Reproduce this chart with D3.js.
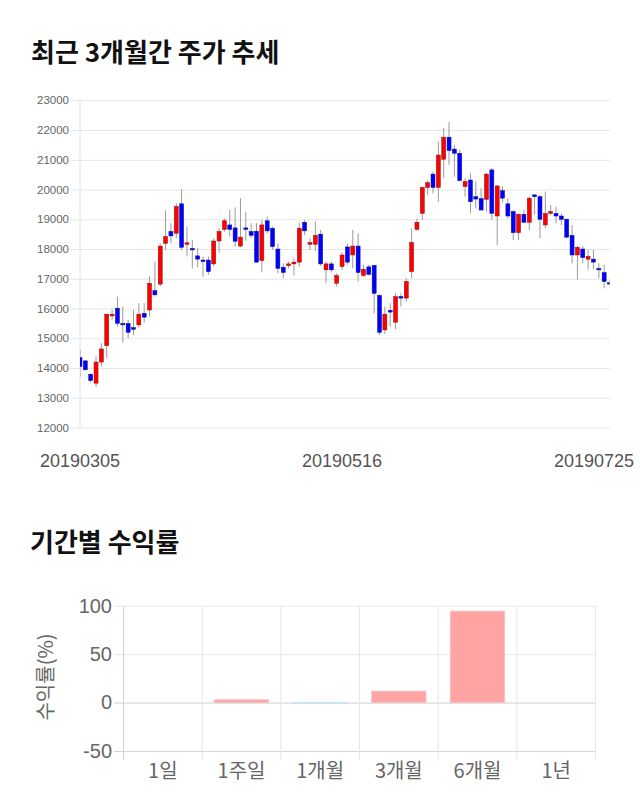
<!DOCTYPE html>
<html>
<head>
<meta charset="utf-8">
<script src="https://cdn.jsdelivr.net/npm/d3@7"></script>
<style>
  html, body { margin: 0; padding: 0; background: #fff; }
  svg { display: block; }
</style>
</head>
<body>
<svg id="chart" width="640" height="810"></svg>
<script>
// ---------- Data: daily candles 2019-03-05 .. 2019-07-25 ----------
const openP = [14350,14240,13790,13490,14200,14750,15750,16010,15500,15500,
  15360,15450,15840,15950,16600,16820,18190,18590,18530,19520,
  18170,18020,17770,17630,17630,17500,18270,18660,18810,18710,
  18100,18710,18590,18600,17610,18950,18700,18000,17390,17440,
  17500,17560,18900,18160,18160,18500,17300,17500,16850,17410,
  18070,17800,18100,17110,17400,17450,16440,15280,15940,15540,
  16400,16350,17240,18660,19200,20070,20520,20070,21020,21760,
  21360,21220,20100,20320,19760,19700,19670,20660,19110,19960,
  19520,19260,18550,19170,18900,19820,19760,18810,19200,19200,
  19110,19000,18460,17800,18000,17660,17660,17350,17210,16870];
const highP = [14610,14270,13830,14390,14830,15810,15970,16400,16070,15620,
  15950,16180,16180,17080,17580,18190,19300,18870,19540,20010,
  18750,18300,18030,17750,17750,18360,18700,19030,19320,19400,
  19710,19260,18870,18870,18980,19090,18750,18190,17520,17580,
  17690,18870,18980,18360,18920,18640,17580,17580,17190,17890,
  18190,18640,18530,17470,17470,17470,16480,16070,16180,16510,
  16510,17020,18700,19030,20100,20320,20600,21610,22080,22270,
  21500,21330,20380,20550,20270,20040,20550,20720,20150,20100,
  19710,19310,19200,19310,19760,19840,19820,19930,19480,19420,
  19200,19030,18810,18100,18100,17970,17970,17520,17470,16960];
const lowP = [13710,13920,13510,13360,14050,14330,15620,15390,14850,15000,
  15110,15360,15530,15730,16400,16740,17970,18190,18360,17970,
  17750,17350,17390,17070,17130,17410,17880,18580,18420,18080,
  18060,18280,18360,17540,17220,18530,17970,17190,17020,17350,
  17110,17410,18470,17970,17930,17430,16850,17210,16740,17300,
  17470,17350,16910,17070,17110,15840,15110,15150,15390,15310,
  16070,16230,17020,18620,18980,19810,19870,19590,20380,20830,
  20430,20270,19760,19200,19370,19310,19260,18980,18140,19560,
  19030,18300,18300,18870,18640,19150,18360,18700,19150,18870,
  18810,18360,17520,16970,17520,17300,17320,17020,16680,16800];
const closeP = [14050,13940,13580,14200,14640,15810,15810,15500,15450,15200,
  15300,15810,15710,16850,16460,18100,18420,18440,19430,18060,
  18210,17980,17660,17580,17240,18270,18590,18950,18660,18260,
  18400,18660,18460,17560,18810,18610,18080,17350,17210,17500,
  17560,18700,18610,18220,18460,17500,17500,17300,17110,17800,
  17560,18100,17210,17320,17150,16510,15200,15810,15880,16400,
  16350,16910,18220,18900,20070,20230,20070,21160,21760,21310,
  21220,20300,20270,19590,19680,19310,20520,19200,20120,19710,
  19110,18550,19170,18900,19710,19760,19000,19200,19260,19110,
  19000,18400,17800,18060,17710,17750,17560,17300,16910,16830];
const priceTicks = [12000,13000,14000,15000,16000,17000,18000,19000,20000,21000,22000,23000];
const dateLabels = ["20190305", "20190516", "20190725"];
const dateLabelIdx = [0, 49, 99];

// ---------- Data: period returns ----------
const periods = ["1일", "1주일", "1개월", "3개월", "6개월", "1년"];
const returns = [0, 2.9, -0.6, 11.8, 94.4, 0];
const returnTicks = [-50, 0, 50, 100];

const svg = d3.select("#chart");
const FONT = "'Liberation Sans', Arial, sans-serif";
const KFONT = "'Noto Sans CJK KR', 'Noto Sans', sans-serif";

// ---------- Titles ----------
svg.append("text").attr("x", 31).attr("y", 62)
  .attr("font-family", KFONT).attr("font-weight", "bold").attr("font-size", 26)
  .attr("fill", "#111").text("최근 3개월간 주가 추세");
svg.append("text").attr("x", 30).attr("y", 552)
  .attr("font-family", KFONT).attr("font-weight", "bold").attr("font-size", 26)
  .attr("fill", "#111").text("기간별 수익률");

// ---------- Candlestick chart ----------
const cx0 = 80, cx1 = 609.5, cyTop = 100.3, cyBot = 427.5;
const x = d3.scaleLinear().domain([0, openP.length - 1]).range([cx0, cx1]);
const y = d3.scaleLinear().domain([12000, 23000]).range([cyBot, cyTop]);

const yAxis = d3.axisLeft(y).tickValues(priceTicks).tickSize(610 - 70).tickPadding(1)
  .tickFormat(d => String(d));
const gy = svg.append("g").attr("transform", "translate(610,0)").call(yAxis);
gy.select(".domain").remove();
gy.selectAll(".tick line").attr("stroke", "#e6e6e6");
gy.selectAll(".tick text").attr("font-family", FONT).attr("font-size", 11.5).attr("fill", "#666");

svg.append("line").attr("x1", cx0).attr("x2", cx0).attr("y1", cyTop).attr("y2", cyBot)
  .attr("stroke", "#e2e2e2");

svg.append("defs").append("clipPath").attr("id", "plotclip")
  .append("rect").attr("x", cx0).attr("y", 90).attr("width", cx1 - cx0).attr("height", 350);

const candles = d3.range(openP.length).map(i => ({
  i, o: openP[i], h: highP[i], l: lowP[i], c: closeP[i]
}));
const gc = svg.append("g").attr("clip-path", "url(#plotclip)");
gc.selectAll("line.wick").data(candles).join("line").attr("class", "wick")
  .attr("x1", d => x(d.i)).attr("x2", d => x(d.i))
  .attr("y1", d => y(d.h)).attr("y2", d => y(d.l))
  .attr("stroke", "#9a9a9a").attr("stroke-width", 1);
const bw = 4;
gc.selectAll("rect.body").data(candles).join("rect").attr("class", "body")
  .attr("x", d => x(d.i) - bw / 2).attr("width", bw)
  .attr("y", d => y(Math.max(d.o, d.c)))
  .attr("height", d => Math.max(1.5, Math.abs(y(d.o) - y(d.c))))
  .attr("fill", d => d.c >= d.o ? "#ff0000" : "#0000ff")
  .attr("stroke", d => d.c >= d.o ? "#8a1010" : "#10108a").attr("stroke-width", 0.5);

const gxl = svg.append("g");
dateLabels.forEach((t, k) => {
  const tx = gxl.append("text").attr("y", 467).attr("font-family", FONT).attr("font-size", 18)
    .attr("fill", "#555").attr("text-anchor", "middle").text(t);
  const w = tx.node().getComputedTextLength();
  let px = x(dateLabelIdx[k]);
  px = Math.min(px, 634 - w / 2);
  tx.attr("x", px);
});

// ---------- Returns bar chart ----------
const bx0 = 123.5, bx1 = 595.5, byTop = 605.7, byBot = 751;
const xb = d3.scaleBand().domain(periods).range([bx0, bx1]).padding(0);
const yb = d3.scaleLinear().domain([-50, 100]).range([byBot, byTop]);

// horizontal grid
const ybAxis = d3.axisLeft(yb).tickValues(returnTicks).tickSize(bx1 - 114).tickPadding(2)
  .tickFormat(d => String(d));
const gyb = svg.append("g").attr("transform", `translate(${bx1},0)`).call(ybAxis);
gyb.select(".domain").remove();
gyb.selectAll(".tick line").attr("stroke", d => d === 0 ? "#cfcfcf" : (d === -50 ? "#d6d6d6" : "#e8e8e8"));
gyb.selectAll(".tick text").attr("font-family", FONT).attr("font-size", 20).attr("fill", "#666");

// vertical grid at band boundaries
const bounds = periods.map(p => xb(p)).concat([bx1]);
svg.append("g").selectAll("line").data(bounds).join("line")
  .attr("x1", d => d).attr("x2", d => d).attr("y1", byTop).attr("y2", byBot + 9)
  .attr("stroke", (d, i) => i === 0 ? "#d0d0d0" : "#e6e6e6");

const barW = xb.bandwidth() * 0.69;
svg.append("g").selectAll("rect").data(periods.map((p, i) => ({ p, v: returns[i] })))
  .join("rect")
  .attr("x", d => xb(d.p) + (xb.bandwidth() - barW) / 2)
  .attr("width", barW)
  .attr("y", d => yb(Math.max(0, d.v)))
  .attr("height", d => Math.abs(yb(d.v) - yb(0)))
  .attr("fill", d => d.v >= 0 ? "#ffa3a3" : "#a8d8e8")
  .attr("stroke", d => d.v >= 0 ? "#f3c4c4" : "#c4e4ee")
  .attr("stroke-width", d => d.v === 0 ? 0 : 1);

// x labels
svg.append("g").selectAll("text").data(periods).join("text")
  .attr("x", d => xb(d) + xb.bandwidth() / 2).attr("y", 778)
  .attr("text-anchor", "middle").attr("font-family", KFONT).attr("font-size", 20)
  .attr("fill", "#666").text(d => d);

// y axis title
svg.append("text").attr("transform", "translate(53,677) rotate(-90)")
  .attr("text-anchor", "middle").attr("font-family", KFONT).attr("font-size", 20)
  .attr("fill", "#666").text("수익률(%)");
</script>
</body>
</html>
